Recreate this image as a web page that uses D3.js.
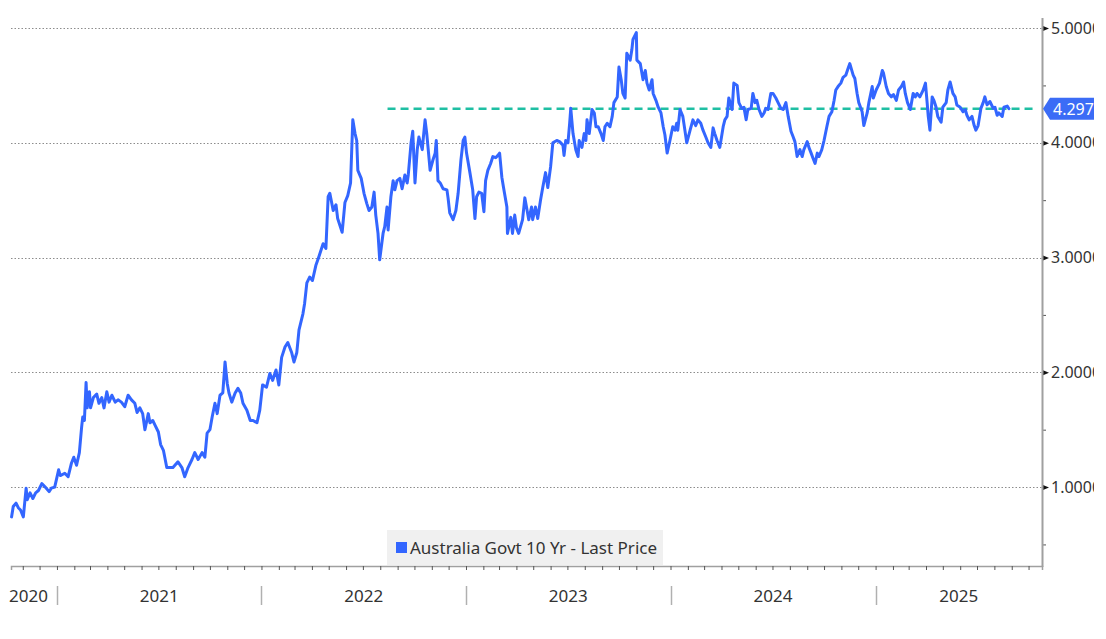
<!DOCTYPE html>
<html>
<head>
<meta charset="utf-8">
<script src="https://cdn.jsdelivr.net/npm/d3@7"></script>
<style>
  html, body { margin: 0; padding: 0; background: #ffffff; overflow: hidden; }
  svg { display: block; font-family: "Noto Sans", "Open Sans", sans-serif; }
</style>
</head>
<body>
<svg id="chart" width="1106" height="639"></svg>
<script>
// ---------------- DATA ----------------
const seriesName = "Australia Govt 10 Yr - Last Price";
const lastPrice = 4.297;
const lastPriceLabel = "4.297";
const refLineStart = "2022-08-14";
const refLineEnd = "2025-10-13";
const yTickValues = [1, 2, 3, 4, 5];
const yMinorTickValues = [0.5, 1.5, 2.5, 3.5, 4.5];
const yTickLabels = ["1.0000", "2.0000", "3.0000", "4.0000", "5.0000"];
const yearLabels = ["2020", "2021", "2022", "2023", "2024", "2025"];

const dates = [
"2020-10-12","2020-10-15","2020-10-20","2020-10-24","2020-10-28","2020-11-02","2020-11-07","2020-11-09","2020-11-14","2020-11-19",
"2020-11-24","2020-11-29","2020-12-05","2020-12-11","2020-12-18","2020-12-22","2020-12-28","2021-01-04","2021-01-07","2021-01-15",
"2021-01-21","2021-01-27","2021-01-31","2021-02-05","2021-02-10","2021-02-14","2021-02-16","2021-02-19","2021-02-22","2021-02-24",
"2021-02-28","2021-03-02","2021-03-07","2021-03-13","2021-03-17","2021-03-22","2021-03-26","2021-03-31","2021-04-04","2021-04-09",
"2021-04-15","2021-04-20","2021-04-26","2021-05-02","2021-05-08","2021-05-14","2021-05-20","2021-05-24","2021-05-29","2021-06-03",
"2021-06-07","2021-06-13","2021-06-16","2021-06-21","2021-06-25","2021-07-01","2021-07-05","2021-07-10","2021-07-16","2021-07-22",
"2021-07-27","2021-08-05","2021-08-12","2021-08-17","2021-08-23","2021-08-30","2021-09-04","2021-09-10","2021-09-17","2021-09-22",
"2021-09-26","2021-10-01","2021-10-05","2021-10-10","2021-10-14","2021-10-19","2021-10-24","2021-10-28","2021-11-01","2021-11-04",
"2021-11-09","2021-11-15","2021-11-20","2021-11-25","2021-11-29","2021-12-06","2021-12-12","2021-12-17","2021-12-24","2021-12-29",
"2022-01-03","2022-01-10","2022-01-16","2022-01-21","2022-01-27","2022-02-01","2022-02-06","2022-02-12","2022-02-17","2022-02-24",
"2022-02-28","2022-03-05","2022-03-09","2022-03-16","2022-03-19","2022-03-23","2022-03-28","2022-04-02","2022-04-08","2022-04-13",
"2022-04-21","2022-04-26","2022-04-30","2022-05-03","2022-05-09","2022-05-14","2022-05-17","2022-05-25","2022-05-30","2022-06-04",
"2022-06-09","2022-06-13","2022-06-17","2022-06-20","2022-06-22","2022-06-28","2022-07-03","2022-07-08","2022-07-12","2022-07-17",
"2022-07-21","2022-07-24","2022-07-28","2022-07-31","2022-08-06","2022-08-09","2022-08-13","2022-08-15","2022-08-20","2022-08-24",
"2022-08-27","2022-08-31","2022-09-05","2022-09-09","2022-09-14","2022-09-18","2022-09-20","2022-09-25","2022-09-28","2022-10-02",
"2022-10-06","2022-10-09","2022-10-15","2022-10-17","2022-10-20","2022-10-23","2022-10-29","2022-11-03","2022-11-07","2022-11-09",
"2022-11-12","2022-11-16","2022-11-21","2022-11-28","2022-11-30","2022-12-03","2022-12-09","2022-12-14","2022-12-18","2022-12-23",
"2022-12-27","2022-12-30","2023-01-02","2023-01-08","2023-01-13","2023-01-17","2023-01-20","2023-01-24","2023-01-29","2023-02-02",
"2023-02-05","2023-02-09","2023-02-14","2023-02-18","2023-02-23","2023-02-27","2023-03-02","2023-03-06","2023-03-09","2023-03-15",
"2023-03-16","2023-03-22","2023-03-25","2023-03-29","2023-04-01","2023-04-05","2023-04-12","2023-04-16","2023-04-19","2023-04-23",
"2023-04-28","2023-04-30","2023-05-05","2023-05-09","2023-05-14","2023-05-18","2023-05-23","2023-05-27","2023-06-01","2023-06-05",
"2023-06-12","2023-06-17","2023-06-23","2023-06-25","2023-06-28","2023-07-02","2023-07-05","2023-07-07","2023-07-11","2023-07-16",
"2023-07-20","2023-07-22","2023-07-27","2023-07-31","2023-08-03","2023-08-05","2023-08-09","2023-08-14","2023-08-18","2023-08-21",
"2023-08-25","2023-08-30","2023-09-03","2023-09-06","2023-09-10","2023-09-15","2023-09-19","2023-09-22","2023-09-28","2023-10-01",
"2023-10-05","2023-10-08","2023-10-12","2023-10-15","2023-10-21","2023-10-24","2023-10-26","2023-11-01","2023-11-02","2023-11-08",
"2023-11-13","2023-11-17","2023-11-20","2023-11-24","2023-11-29","2023-12-01","2023-12-06","2023-12-10","2023-12-15","2023-12-19",
"2023-12-22","2023-12-26","2023-12-31","2024-01-05","2024-01-09","2024-01-12","2024-01-14","2024-01-18","2024-01-23","2024-01-30",
"2024-02-05","2024-02-10","2024-02-15","2024-02-19","2024-02-24","2024-02-28","2024-03-04","2024-03-08","2024-03-13","2024-03-17",
"2024-03-20","2024-03-24","2024-03-29","2024-04-04","2024-04-07","2024-04-11","2024-04-14","2024-04-20","2024-04-23","2024-04-29",
"2024-05-02","2024-05-07","2024-05-11","2024-05-15","2024-05-18","2024-05-24","2024-05-27","2024-05-31","2024-06-03","2024-06-07",
"2024-06-12","2024-06-16","2024-06-19","2024-06-23","2024-06-28","2024-07-02","2024-07-07","2024-07-11","2024-07-16","2024-07-20",
"2024-07-25","2024-07-29","2024-08-03","2024-08-07","2024-08-10","2024-08-14","2024-08-19","2024-08-23","2024-08-26","2024-09-01",
"2024-09-04","2024-09-08","2024-09-11","2024-09-15","2024-09-19","2024-09-22","2024-09-27","2024-10-01","2024-10-06","2024-10-10",
"2024-10-15","2024-10-19","2024-10-22","2024-10-26","2024-10-31","2024-11-04","2024-11-09","2024-11-13","2024-11-16","2024-11-22",
"2024-11-25","2024-11-29","2024-12-02","2024-12-08","2024-12-11","2024-12-17","2024-12-20","2024-12-26","2024-12-28","2025-01-02",
"2025-01-05","2025-01-08","2025-01-13","2025-01-15","2025-01-20","2025-01-24","2025-01-29","2025-02-02","2025-02-07","2025-02-11",
"2025-02-16","2025-02-20","2025-02-23","2025-02-27","2025-03-04","2025-03-09","2025-03-13","2025-03-16","2025-03-21","2025-03-27",
"2025-03-31","2025-04-03","2025-04-05","2025-04-08","2025-04-12","2025-04-15","2025-04-19","2025-04-22","2025-04-28","2025-05-01",
"2025-05-07","2025-05-10","2025-05-14","2025-05-19","2025-05-23","2025-05-26","2025-06-01","2025-06-06","2025-06-10","2025-06-13",
"2025-06-17","2025-06-22","2025-06-26","2025-06-29","2025-07-03","2025-07-08","2025-07-12","2025-07-15","2025-07-19","2025-07-24",
"2025-07-30","2025-08-02","2025-08-06","2025-08-09","2025-08-15","2025-08-18","2025-08-24","2025-08-27"
];

const yields = [
0.74,0.83,0.86,0.82,0.80,0.74,0.99,0.89,0.95,0.90,
0.95,0.97,1.03,1.00,0.96,0.99,1.00,1.15,1.10,1.12,
1.09,1.21,1.26,1.19,1.30,1.52,1.61,1.58,1.91,1.69,
1.83,1.69,1.78,1.81,1.73,1.78,1.69,1.83,1.74,1.80,
1.74,1.76,1.74,1.70,1.80,1.76,1.73,1.65,1.69,1.64,
1.50,1.64,1.56,1.58,1.54,1.48,1.37,1.32,1.17,1.17,
1.17,1.22,1.17,1.09,1.17,1.24,1.30,1.24,1.30,1.26,
1.47,1.50,1.61,1.73,1.64,1.80,1.82,2.09,1.90,1.82,
1.74,1.82,1.86,1.82,1.73,1.67,1.58,1.58,1.56,1.67,
1.89,1.87,1.99,1.93,2.02,1.89,2.13,2.22,2.26,2.17,
2.09,2.17,2.37,2.51,2.60,2.78,2.83,2.80,2.93,3.00,
3.12,3.08,3.53,3.56,3.41,3.46,3.34,3.22,3.48,3.54,
3.65,4.20,4.08,4.02,3.76,3.69,3.56,3.47,3.41,3.44,
3.57,3.37,3.21,2.98,3.21,3.27,3.44,3.24,3.53,3.67,
3.59,3.67,3.69,3.60,3.72,3.65,3.72,4.00,4.10,3.65,
3.94,4.05,3.94,4.05,4.20,4.08,3.76,3.85,3.91,4.02,
3.67,3.65,3.60,3.59,3.52,3.39,3.33,3.41,3.56,3.85,
4.02,4.05,3.91,3.74,3.59,3.34,3.53,3.57,3.56,3.40,
3.67,3.76,3.82,3.88,3.87,3.89,3.91,3.70,3.61,3.44,
3.21,3.35,3.21,3.37,3.26,3.21,3.33,3.52,3.44,3.33,
3.44,3.33,3.44,3.34,3.50,3.61,3.74,3.61,3.79,4.00,
4.02,4.01,3.98,3.89,4.02,4.00,4.17,4.30,4.08,3.94,
3.88,4.02,3.96,4.08,4.02,4.20,4.08,4.29,4.26,4.14,
4.14,4.08,4.02,4.14,4.17,4.14,4.23,4.35,4.40,4.66,
4.55,4.43,4.39,4.78,4.72,4.81,4.90,4.96,4.72,4.69,
4.55,4.63,4.52,4.46,4.55,4.43,4.37,4.31,4.26,4.14,
4.07,3.91,4.02,4.14,4.11,4.17,4.11,4.29,4.23,4.00,
4.11,4.20,4.15,4.20,4.17,4.11,4.05,4.00,3.96,4.13,
4.08,4.02,3.96,4.14,4.20,4.23,4.39,4.29,4.52,4.50,
4.35,4.30,4.31,4.20,4.29,4.30,4.43,4.35,4.37,4.29,
4.23,4.26,4.30,4.29,4.43,4.43,4.39,4.35,4.30,4.29,
4.35,4.23,4.10,4.05,4.01,3.88,3.94,3.88,3.94,4.01,
3.96,3.91,3.87,3.82,3.91,3.88,3.94,4.02,4.14,4.23,
4.27,4.37,4.46,4.49,4.52,4.57,4.59,4.65,4.69,4.59,
4.56,4.43,4.35,4.27,4.15,4.26,4.35,4.49,4.39,4.46,
4.49,4.52,4.63,4.61,4.49,4.43,4.40,4.42,4.37,4.46,
4.49,4.53,4.43,4.35,4.29,4.43,4.40,4.43,4.40,4.46,
4.52,4.35,4.23,4.11,4.40,4.37,4.31,4.23,4.18,4.31,
4.35,4.46,4.53,4.43,4.40,4.33,4.31,4.27,4.29,4.24,
4.20,4.23,4.15,4.11,4.15,4.30,4.35,4.40,4.33,4.36,
4.30,4.31,4.24,4.26,4.23,4.31,4.32,4.297
];

const xDomain = ["2020-10-11", "2025-10-25"];
const yDomain = [0.312, 5.07];

// ---------------- LAYOUT ----------------
const W = 1106, H = 639, clipW = 1094;
const plot = { left: 11, right: 1042, top: 18, bottom: 566 };

const parse = d3.timeParse("%Y-%m-%d");
const data = dates.map((d, i) => ({ date: parse(d), value: yields[i] }));

const x = d3.scaleTime().domain(xDomain.map(parse)).range([plot.left, plot.right]);
const y = d3.scaleLinear().domain(yDomain).range([566, 20]);

const root = d3.select("#chart");
root.append("rect").attr("width", W).attr("height", H).attr("fill", "#ffffff");
root.append("defs").append("clipPath").attr("id", "frame")
  .append("rect").attr("x", 0).attr("y", 0).attr("width", clipW).attr("height", H);
const svg = root.append("g").attr("clip-path", "url(#frame)");

// grid lines
svg.append("g").selectAll("line").data(yTickValues).join("line")
  .attr("x1", plot.left).attr("x2", plot.right)
  .attr("y1", d => Math.round(y(d)) + 0.5).attr("y2", d => Math.round(y(d)) + 0.5)
  .attr("stroke", "#8c8c8c").attr("stroke-width", 1).attr("stroke-dasharray", "1.5,2");

// reference dashed line
svg.append("line")
  .attr("x1", x(parse(refLineStart))).attr("x2", x(parse(refLineEnd)))
  .attr("y1", y(lastPrice)).attr("y2", y(lastPrice))
  .attr("stroke", "#1fbfa3").attr("stroke-width", 2.5).attr("stroke-dasharray", "8,5");

// series line
svg.append("path").datum(data)
  .attr("fill", "none").attr("stroke", "#3366ff").attr("stroke-width", 3)
  .attr("stroke-linejoin", "round").attr("stroke-linecap", "round")
  .attr("d", d3.line().x(d => x(d.date)).y(d => y(d.value)));

// bottom axis (monthly ticks)
const xAxis = d3.axisBottom(x).ticks(d3.timeMonth.every(1)).tickSize(4).tickFormat("");
const gx = svg.append("g").attr("transform", `translate(0,${plot.bottom})`).call(xAxis);
gx.select(".domain").attr("stroke", "#a0a0a0").attr("stroke-width", 1.5);
gx.selectAll(".tick line").attr("stroke", "#555");

// legend
const legend = svg.append("g");
legend.append("rect").attr("x", 387).attr("y", 530).attr("width", 276).attr("height", 35).attr("fill", "#f0f0f0");
legend.append("rect").attr("x", 396).attr("y", 542).attr("width", 11).attr("height", 11).attr("fill", "#3366ff");
legend.append("text").attr("x", 410).attr("y", 554).attr("font-size", 17).attr("fill", "#333")
  .text(seriesName);

// year separators and labels
const years = d3.timeYear.range(d3.timeYear.floor(x.domain()[0]), x.domain()[1]);
const boundaries = d3.timeYear.range(d3.timeYear.ceil(x.domain()[0]), x.domain()[1]);
svg.append("g").selectAll("line").data(boundaries).join("line")
  .attr("x1", d => Math.round(x(d)) + 0.5).attr("x2", d => Math.round(x(d)) + 0.5)
  .attr("y1", 586).attr("y2", 605).attr("stroke", "#b0b0b0").attr("stroke-width", 1.5);
svg.append("g").selectAll("text").data(years).join("text")
  .attr("x", d => {
    const a = Math.max(x(d), 0);
    const b = Math.min(x(d3.timeYear.offset(d, 1)), plot.right);
    return (a + b) / 2;
  })
  .attr("y", 602).attr("text-anchor", "middle").attr("font-size", 17).attr("fill", "#333")
  .text((d, i) => yearLabels[i]);

// right axis
const gy = svg.append("g").attr("transform", `translate(${plot.right},0)`)
  .call(d3.axisRight(y).tickValues(yTickValues).tickSize(0).tickPadding(9)
    .tickFormat((d, i) => yTickLabels[i]));
gy.select(".domain").remove();
gy.selectAll("text").attr("font-size", 16).attr("fill", "#333").attr("font-family", "Noto Sans, sans-serif");
gy.selectAll(".tick").append("path").attr("d", "M1,-2.5L7,0L1,2.5Z").attr("fill", "#111");

const gyMinor = svg.append("g").attr("transform", `translate(${plot.right},0)`)
  .call(d3.axisRight(y).tickValues(yMinorTickValues).tickSize(4).tickFormat(""));
gyMinor.select(".domain").remove();
gyMinor.selectAll(".tick line").attr("stroke", "#555");

svg.append("line").attr("x1", plot.right + 0.5).attr("x2", plot.right + 0.5)
  .attr("y1", plot.top).attr("y2", plot.bottom + 1).attr("stroke", "#a0a0a0").attr("stroke-width", 2);

// last price label
const ly = y(lastPrice);
svg.append("path")
  .attr("d", `M${plot.right + 1},${ly} L${plot.right + 8},${ly - 11} L${W},${ly - 11} L${W},${ly + 11} L${plot.right + 8},${ly + 11} Z`)
  .attr("fill", "#3b6cf6");
svg.append("text").attr("x", plot.right + 11).attr("y", ly + 6).attr("font-size", 16)
  .attr("fill", "#ffffff").text(lastPriceLabel);
</script>
</body>
</html>
